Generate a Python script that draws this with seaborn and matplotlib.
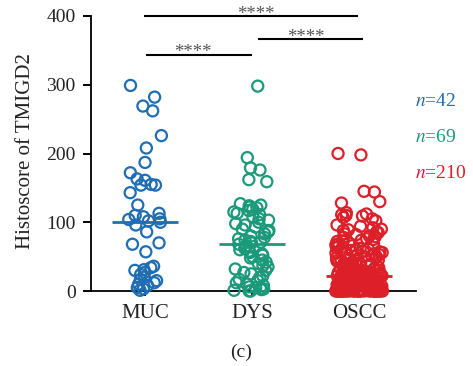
import numpy as np
import pandas as pd
import matplotlib
matplotlib.use("Agg")
import matplotlib.pyplot as plt
import seaborn as sns


groups = ["MUC", "DYS", "OSCC"]
colors = ["#1f6db3", "#1b9a7b", "#dc1f28"]

muc = [299, 282, 269, 262, 226, 208, 187, 172, 163, 161, 155, 154, 154, 143, 125,
       113, 110, 108, 105, 104, 102, 100, 96, 86, 70, 68, 57,
       36, 34, 31, 30, 27, 24, 20, 17, 15, 12, 10, 8, 5, 3, 1]

dys = [298, 194, 179, 176, 162, 159,
       127, 125, 124, 122, 121, 119, 117, 115, 113, 111, 108, 105, 103, 100,
       98, 96, 93, 90, 88, 86, 83, 80, 78, 76, 74, 72, 71, 70,
       68,
       66, 64, 62, 60, 58, 56, 54, 52, 50, 48, 45, 42, 40, 37, 35, 32, 30,
       27, 25, 22, 20, 17, 15, 12, 10, 8, 6, 5, 4, 3, 2, 1, 0, 0]

oscc = [200, 198, 145, 144, 130, 128,
        114, 112, 111, 110, 109, 107, 105, 102,
        96, 94, 92, 90, 89, 88,
        86, 85, 83, 82, 80, 79, 78, 76, 75, 74, 73, 72, 70, 69, 68, 67, 66, 65, 64, 63,
        62, 61, 60, 60, 59, 58, 57, 56, 55, 55, 54, 53, 52, 51, 50, 50, 49, 48, 47, 46,
        45, 45, 44, 43, 42, 42, 41, 40, 40, 39, 38, 38, 37, 36, 36, 35, 35, 34, 33, 33,
        32, 32, 31, 30, 30, 30, 29, 28, 28, 27, 27, 26, 26, 25, 25, 25, 24, 24, 24, 23,
        23, 23, 23, 22, 22,
        22, 21, 21, 20, 20, 20, 19, 19, 18, 18, 18, 17, 17, 16, 16, 16, 15, 15, 15, 14,
        14, 14, 13, 13, 13, 12, 12, 12, 12, 11, 11, 11, 10, 10, 10, 10, 9, 9, 9, 8,
        8, 8, 8, 7, 7, 7, 6, 6, 6, 6, 5, 5, 5, 5, 4, 4, 4, 4, 3, 3,
        3, 3, 3, 2, 2, 2, 2, 2, 1, 1, 1, 1, 1, 1, 0, 0, 0, 0, 0, 0,
        0, 0, 0, 0, 0, 0, 0, 0, 0, 0, 0, 0, 0, 0, 0, 0, 0, 0, 0, 0,
        0, 0, 0, 0, 0]

n_labels = ["$n$=42", "$n$=69", "$n$=210"]
sig_labels = ["****", "****", "****"]


sns.set_theme(style="ticks")
plt.rcParams["font.family"] = ["Liberation Serif", "DejaVu Serif"]
plt.rcParams["mathtext.fontset"] = "stix"

df = pd.DataFrame({
    "group": ["MUC"] * len(muc) + ["DYS"] * len(dys) + ["OSCC"] * len(oscc),
    "score": muc + dys + oscc,
})

fig = plt.figure(figsize=(4.73, 3.66), dpi=100)
ax = fig.add_axes([91 / 473, 1 - 291 / 366, 325 / 473, 275 / 366])

np.random.seed(7)
for g, jit in zip(groups, [0.16, 0.17, 0.22]):
    sns.stripplot(data=df[df["group"] == g], x="group", y="score", hue="group",
                  order=groups, hue_order=groups, palette=colors, jitter=jit,
                  size=8, legend=False, ax=ax)
# open circles
for coll in ax.collections:
    fc = coll.get_facecolors()
    coll.set_edgecolors(fc)
    coll.set_facecolors("none")
    coll.set_linewidths(1.6)
    coll.set_clip_on(False)
    coll.set_zorder(3)

# median lines
for i, (vals, c) in enumerate(zip([muc, dys, oscc], colors)):
    ax.plot([i - 0.31, i + 0.31], [np.median(vals)] * 2, color=c, lw=2, zorder=4,
            solid_capstyle="butt")

# n labels
for y, lab, c in zip([275, 224, 171], n_labels, colors):
    ax.text(2.52, y, lab, color=c, fontsize=14, ha="left", va="center", clip_on=False)

# significance bars
bars = [(-0.01, 1.99, 400, 1.04), (1.06, 2.04, 366, 1.5), (0.01, 1.0, 344, 0.45)]
for (x0, x1, y, tx), lab in zip(bars, sig_labels):
    ax.plot([x0, x1], [y, y], color="black", lw=1.5, clip_on=False, solid_capstyle="butt")
    ax.text(tx, y - 4, lab, ha="center", va="baseline", fontsize=13.5, color="#555555")

ax.set_xlim(-0.505, 2.533)
ax.set_ylim(0, 400)
ax.set_yticks([0, 100, 200, 300, 400])
ax.set_xlabel("")
ax.set_ylabel("Histoscore of TMIGD2", fontsize=15, color="#222222")
ax.yaxis.set_label_coords(-0.172, 0.51)
sns.despine(ax=ax)
for s in ["left", "bottom"]:
    ax.spines[s].set_linewidth(1.3)
    ax.spines[s].set_color("black")
ax.tick_params(axis="y", length=6, width=1.4, pad=5, labelsize=14, colors="black", labelcolor="#222222")
ax.tick_params(axis="x", length=3.5, width=1.4, pad=6, labelsize=15, colors="black", labelcolor="#222222")

fig.text(241 / 473, 1 - 352 / 366, "(c)", ha="center", va="center", fontsize=14, color="#222222")

fig.savefig("out.png", dpi=100)
